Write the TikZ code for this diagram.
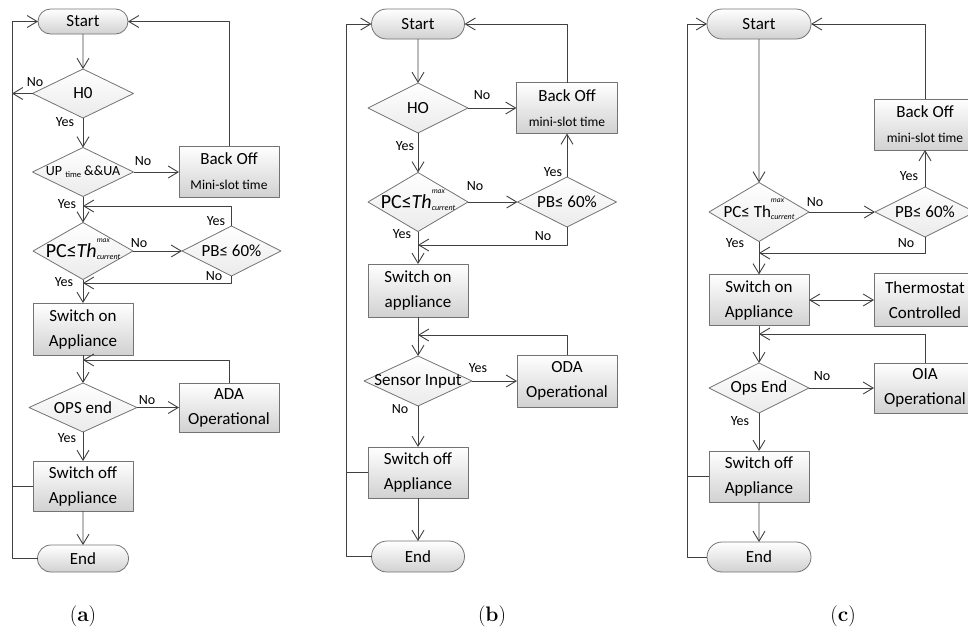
\documentclass[tikz,border=0pt]{standalone}
\usepackage{fontspec}
\newfontfamily\calibri{Carlito}
\usetikzlibrary{shapes.geometric,shapes.misc,arrows.meta}
\newcommand{\fsz}[1]{\fontsize{#1}{#1}\selectfont}
\newcommand{\dtx}[1]{\makebox[0pt]{#1}}
\newcommand{\thsub}{\smash{\rlap{\raisebox{15pt}{\fsz{7.5}\itshape max}}\raisebox{-2pt}{\fsz{8}\itshape current}}}
\begin{document}
\begin{tikzpicture}[x=1pt, y=-1pt, line join=round, >={Straight Barb[length=10pt,width=12pt]},
  txt/.style={font=\calibri\fontsize{17}{25}\selectfont},
  term/.style={txt, rounded rectangle, draw=black!55, line width=0.8pt, top color=white, bottom color=black!18, minimum width=93pt, minimum height=30pt, inner sep=0pt, outer sep=0pt},
  proc/.style={txt, rectangle, draw=black!55, line width=0.8pt, top color=white, bottom color=black!18, minimum width=100pt, minimum height=51pt, inner sep=0pt, outer sep=0pt, align=center},
  dec/.style={txt, diamond, draw=black!55, line width=0.8pt, top color=white, bottom color=black!8, minimum width=100pt, minimum height=50pt, inner sep=0pt, outer sep=0pt},
  lbl/.style={font=\calibri\fontsize{14}{14}\selectfont, inner sep=0pt},
  conn/.style={draw=black!75, line width=0.9pt},
  capt/.style={font=\fontsize{21}{24}\selectfont, inner sep=0pt}]
\useasboundingbox (0,0) rectangle (968,630);
\clip (0,0) rectangle (968,630);

% (a)
\coordinate (la) at (12,0);
\node[term, minimum width=90pt, minimum height=25pt] (sa) at (83,21.5) {Start};
\node[dec, minimum width=101pt, minimum height=49pt] (ha) at (83,93.5) {\dtx{H0}};
\node[dec, minimum width=101pt, minimum height=49pt] (ua) at (83,172) {\dtx{\fsz{14}UP \raisebox{-2pt}{\fsz{8.5}time} \&\&UA}};
\node[proc] (ba) at (229,171.5) {Back Off\\{\fsz{13.5}Mini-slot time}};
\node[dec, minimum height=57pt] (pa) at (83,251) {\dtx{\fsz{20}PC≤\textit{Th}\thsub}};
\node[dec, minimum width=99pt] (qa) at (231.5,251) {\dtx{PB≤ 60\%}};
\node[proc, minimum height=52pt] (ona) at (83,329) {Switch on\\Appliance};
\node[dec, minimum width=108pt, minimum height=49pt] (oa) at (83,407.5) {\dtx{OPS end}};
\node[proc, minimum height=49pt] (da) at (229,407.5) {ADA\\Operational};
\node[proc, minimum height=50pt] (ofa) at (83,486) {Switch off\\Appliance};
\node[term, minimum width=91pt, minimum height=27pt] (ea) at (83,558.5) {End};
\coordinate (ja1) at (83,206);
\coordinate (ja2) at (83,283);
\coordinate (ja3) at (83,360);
\draw[conn,->] (sa) -- (ha);
\draw[conn,->] (ha.west) -- (ha.west -| la);
\draw[conn,->] (ha) -- (ua);
\draw[conn,->] (ua.east) -- (ua.east -| ba.west);
\draw[conn,->] (ba.north) |- (sa.east);
\draw[conn,->] (ua) -- (pa);
\draw[conn,->] (pa.east) -- (qa.west);
\draw[conn,->] (qa.north) |- (ja1);
\draw[conn,->] (qa.south) |- (ja2);
\draw[conn,->] (pa) -- (ona);
\draw[conn,->] (ona) -- (oa);
\draw[conn,->] (da.north) |- (ja3);
\draw[conn,->] (oa.east) -- (da.west);
\draw[conn,->] (oa) -- (ofa);
\draw[conn,->] (ofa) -- (ea);
\draw[conn] (ofa.west) -- (ofa.west -| la);
\draw[conn,->] (ea.west) -- (ea.west -| la) |- (sa.west);
\node[lbl] (na1) at (35,82) {No};
\node[lbl] (ya1) at (65,122) {Yes};
\node[lbl] (na2) at (143,161) {No};
\node[lbl] (ya2) at (67,204) {Yes};
\node[lbl] (na3) at (139,243) {No};
\node[lbl] (ya3) at (216,221) {Yes};
\node[lbl] (na4) at (214,276) {No};
\node[lbl] (ya4) at (64,282) {Yes};
\node[lbl] (na5) at (147,400) {No};
\node[lbl] (ya5) at (67,438) {Yes};
\node[capt] (cpa) at (83,616) {(\textbf{a})};

% (b)
\coordinate (lb) at (346,0);
\node[term] (sb) at (418,24) {Start};
\node[dec] (hb) at (418,108) {\dtx{HO}};
\node[proc, minimum width=101pt] (bb) at (567,108) {Back Off\\{\fsz{13.5}mini-slot time}};
\node[dec, minimum height=59pt] (pb) at (418,202) {\dtx{\fsz{20}PC≤\textit{Th}\thsub}};
\node[dec, minimum width=99pt] (qb) at (567,202) {\dtx{PB≤ 60\%}};
\node[proc, minimum height=53pt] (onb) at (418,290.5) {Switch on\\appliance};
\node[dec, minimum width=108pt] (snb) at (418,381) {\dtx{Sensor Input}};
\node[proc, minimum height=52pt] (db) at (567,381) {ODA\\Operational};
\node[proc] (ofb) at (418,472.5) {Switch off\\Appliance};
\node[term, minimum height=31pt] (eb) at (418,556.5) {End};
\coordinate (jb1) at (418,245);
\coordinate (jb2) at (418,335);
\draw[conn,->] (sb) -- (hb);
\draw[conn,->] (hb.east) -- (bb.west);
\draw[conn,->] (bb.north) |- (sb.east);
\draw[conn,->] (hb) -- (pb);
\draw[conn,->] (pb.east) -- (qb.west);
\draw[conn,->] (qb.north) -- (bb.south);
\draw[conn,->] (qb.south) |- (jb1);
\draw[conn,->] (pb) -- (onb);
\draw[conn,->] (onb) -- (snb);
\draw[conn,->] (db.north) |- (jb2);
\draw[conn,->] (snb.east) -- (db.west);
\draw[conn,->] (snb) -- (ofb);
\draw[conn,->] (ofb) -- (eb);
\draw[conn] (ofb.west) -- (ofb.west -| lb);
\draw[conn,->] (eb.west) -- (eb.west -| lb) |- (sb.west);
\node[lbl] (nb1) at (482,95) {No};
\node[lbl] (yb1) at (405,146) {Yes};
\node[lbl] (yb2) at (553,172) {Yes};
\node[lbl] (nb2) at (475,186) {No};
\node[lbl] (yb3) at (402,234) {Yes};
\node[lbl] (nb3) at (543,236) {No};
\node[lbl] (yb4) at (478,368) {Yes};
\node[lbl] (nb4) at (400,409) {No};
\node[capt] (cpb) at (492,616) {(\textbf{b})};

% (c)
\coordinate (lc) at (687,0);
\node[term, minimum width=104pt] (sc) at (759,24) {Start};
\node[proc, minimum width=102pt] (bc) at (925,124.5) {Back Off\\{\fsz{13.5}mini-slot time}};
\node[dec, minimum height=59pt] (pc) at (759,212) {\dtx{PC≤ Th\thsub}};
\node[dec] (qc) at (925,212) {\dtx{PB≤ 60\%}};
\node[proc] (onc) at (759,300) {Switch on\\Appliance};
\node[proc, minimum width=102pt, minimum height=53pt] (tc) at (925,300) {Thermostat\\Controlled};
\node[dec] (oc) at (759,388) {\dtx{Ops End}};
\node[proc, minimum width=102pt, minimum height=50pt] (ic) at (925,388) {OIA\\Operational};
\node[proc] (ofc) at (759,476.5) {Switch off\\Appliance};
\node[term, minimum width=104pt] (ec) at (759,557) {End};
\coordinate (jc1) at (759,253);
\coordinate (jc2) at (759,334);
\draw[conn,->] (sc) -- (pc);
\draw[conn,->] (pc.east) -- (qc.west);
\draw[conn,->] (qc.north) -- (bc.south);
\draw[conn,->] (bc.north) |- (sc.east);
\draw[conn,->] (qc.south) |- (jc1);
\draw[conn,->] (pc) -- (onc);
\draw[conn,<->] (onc.east) -- (tc.west);
\draw[conn,->] (onc) -- (oc);
\draw[conn,->] (ic.north) |- (jc2);
\draw[conn,->] (oc.east) -- (ic.west);
\draw[conn,->] (oc) -- (ofc);
\draw[conn,->] (ofc) -- (ec);
\draw[conn] (ofc.west) -- (ofc.west -| lc);
\draw[conn,->] (ec.west) -- (ec.west -| lc) |- (sc.west);
\node[lbl] (yc1) at (909,176) {Yes};
\node[lbl] (nc1) at (815,202) {No};
\node[lbl] (yc2) at (735,243) {Yes};
\node[lbl] (nc2) at (906,243) {No};
\node[lbl] (nc3) at (822,376) {No};
\node[lbl] (yc3) at (740,421) {Yes};
\node[capt] (cpc) at (843,616) {(\textbf{c})};
\end{tikzpicture}
\end{document}
